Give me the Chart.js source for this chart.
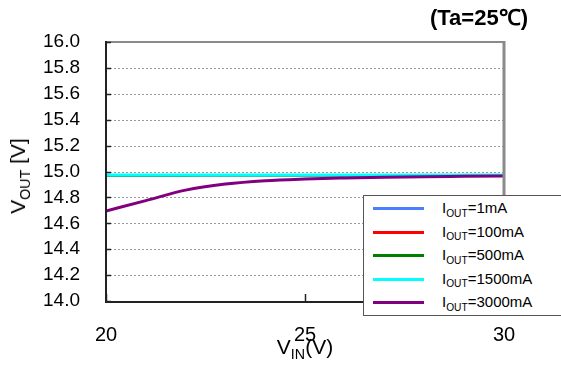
<!DOCTYPE html>
<html>
<head>
<meta charset="utf-8">
<script src="https://cdn.jsdelivr.net/npm/chart.js@4"></script>
<style>
  html, body { margin:0; padding:0; background:#fff; }
  #wrap { position:relative; width:561px; height:367px; overflow:hidden; font-family:"Liberation Sans", Arial, sans-serif; color:#000; }
  canvas { position:absolute; left:0; top:0; }
  .title { position:absolute; right:33px; top:5px; font-weight:bold; font-size:22px; line-height:26px; white-space:nowrap; }
  .xt { position:absolute; left:305px; top:336px; transform:translateX(-50%); font-size:21px; line-height:22px; white-space:nowrap; }
  .yt { position:absolute; left:19px; top:176px; transform:translate(-50%,-50%) rotate(-90deg); font-size:21px; line-height:22px; white-space:nowrap; }
  .sub { font-size:0.68em; position:relative; top:0.35em; }
  #legend { position:absolute; left:363px; top:195px; width:220px; height:121px; border:1px solid #555; background:#fff; box-sizing:border-box; }
  .li { position:absolute; left:0; height:20px; width:220px; }
  .li .sw { position:absolute; left:9px; top:9px; width:51px; height:3px; }
  .li .tx { position:absolute; left:78px; top:0; font-size:15px; line-height:20px; white-space:nowrap; }
</style>
</head>
<body>
<div id="wrap">
  <canvas id="c" width="561" height="367"></canvas>
  <div class="title">(Ta=25℃)</div>
  <div class="xt">V<span class="sub">IN</span>(V)</div>
  <div class="yt">V<span class="sub">OUT</span> [V]</div>
  <div id="legend"></div>
</div>
<script>
// ---- data ----
const vin = [20, 21, 22, 23, 24, 25, 26, 27, 28, 29, 30];
const vout1mA    = [14.971, 14.971, 14.971, 14.971, 14.971, 14.971, 14.971, 14.971, 14.971, 14.971, 14.971];
const vout100mA  = [14.971, 14.971, 14.971, 14.971, 14.971, 14.971, 14.971, 14.971, 14.971, 14.971, 14.971];
const vout500mA  = [14.968, 14.968, 14.968, 14.969, 14.969, 14.969, 14.969, 14.969, 14.969, 14.969, 14.969];
const vout1500mA = [14.973, 14.973, 14.973, 14.973, 14.973, 14.973, 14.973, 14.973, 14.973, 14.973, 14.973];
const vout3000mA = [14.695, 14.775, 14.856, 14.903, 14.929, 14.942, 14.950, 14.956, 14.960, 14.963, 14.966];
const seriesLabels = ["1mA", "100mA", "500mA", "1500mA", "3000mA"];
const seriesColors = ["#4a7dff", "#ff0000", "#008000", "#00ffff", "#800080"];
const yTicks = [14.0, 14.2, 14.4, 14.6, 14.8, 15.0, 15.2, 15.4, 15.6, 15.8, 16.0];
const xTicks = [20, 25, 30];

const seriesValues = [vout1mA, vout100mA, vout500mA, vout1500mA, vout3000mA];
const widths = [2, 2, 2, 3, 3];
const datasets = seriesValues.map((vals, i) => ({
  label: "IOUT=" + seriesLabels[i],
  data: vin.map((x, k) => ({ x: x, y: vals[k] })),
  borderColor: seriesColors[i],
  backgroundColor: seriesColors[i],
  borderWidth: widths[i],
  pointRadius: 0,
  tension: 0.4,
  cubicInterpolationMode: 'monotone',
  fill: false,
  order: seriesValues.length - i
}));

// legend (HTML with subscripts)
const lg = document.getElementById('legend');
seriesLabels.forEach((s, i) => {
  const d = document.createElement('div');
  d.className = 'li';
  d.style.top = (2 + i * 23.5) + 'px';
  d.innerHTML = '<div class="sw" style="background:' + seriesColors[i] + '"></div>' +
    '<div class="tx">I<span class="sub">OUT</span>=' + s + '</div>';
  lg.appendChild(d);
});

const frame = {
  id: 'frame',
  beforeDatasetsDraw(chart) {
    const { ctx, chartArea: a, scales: { y } } = chart;
    ctx.save();
    ctx.strokeStyle = '#9a9a9a';
    ctx.lineWidth = 1;
    ctx.setLineDash([2, 2]);
    yTicks.forEach(v => {
      if (v <= 14.0 || v >= 16.0) return;
      const py = Math.round(y.getPixelForValue(v)) + 0.5;
      ctx.beginPath(); ctx.moveTo(a.left, py); ctx.lineTo(a.right, py); ctx.stroke();
    });
    ctx.restore();
  },
  afterDatasetsDraw(chart) {
    const { ctx, chartArea: a, scales: { x, y } } = chart;
    ctx.save();
    ctx.strokeStyle = '#8a8a8a';
    ctx.lineWidth = 2;
    ctx.beginPath(); ctx.moveTo(a.left, a.top); ctx.lineTo(a.right, a.top); ctx.stroke();
    ctx.lineWidth = 3;
    ctx.beginPath(); ctx.moveTo(a.right, a.top - 1); ctx.lineTo(a.right, a.bottom); ctx.stroke();
    ctx.strokeStyle = '#222';
    ctx.lineWidth = 2;
    ctx.beginPath(); ctx.moveTo(a.left, a.top - 1); ctx.lineTo(a.left, a.bottom + 1); ctx.lineTo(a.right, a.bottom + 1); ctx.stroke();
    ctx.lineWidth = 1.5;
    yTicks.forEach(v => {
      const py = Math.round(y.getPixelForValue(v)) + 0.5;
      ctx.beginPath(); ctx.moveTo(a.left, py); ctx.lineTo(a.left + 5, py); ctx.stroke();
    });
    xTicks.forEach(v => {
      const px = Math.round(x.getPixelForValue(v)) + 0.5;
      ctx.beginPath(); ctx.moveTo(px, a.bottom); ctx.lineTo(px, a.bottom - 7); ctx.stroke();
    });
    ctx.restore();
  }
};

new Chart(document.getElementById('c'), {
  type: 'line',
  data: { datasets: datasets },
  options: {
    responsive: false,
    animation: false,
    devicePixelRatio: 1,
    layout: { padding: { top: 42, right: 57, left: 0, bottom: 0 } },
    plugins: { legend: { display: false }, tooltip: { enabled: false }, title: { display: false } },
    scales: {
      x: {
        type: 'linear', min: 20, max: 30,
        afterFit(s) { s.height = 66; },
        afterBuildTicks(s) { s.ticks = xTicks.map(v => ({ value: v })); },
        grid: { display: false, drawTicks: false },
        border: { display: false },
        ticks: { padding: 22, color: '#000', maxRotation: 0, autoSkip: false,
                 font: { family: '"Liberation Sans", Arial, sans-serif', size: 20 } }
      },
      y: {
        type: 'linear', min: 14, max: 16,
        afterFit(s) { s.width = 106; },
        afterBuildTicks(s) { s.ticks = yTicks.map(v => ({ value: v })); },
        grid: { display: false, drawTicks: false },
        border: { display: false },
        ticks: { padding: 26, color: '#000', autoSkip: false,
                 callback: v => Number(v).toFixed(1),
                 font: { family: '"Liberation Sans", Arial, sans-serif', size: 19 } }
      }
    }
  },
  plugins: [frame]
});
</script>
</body>
</html>
